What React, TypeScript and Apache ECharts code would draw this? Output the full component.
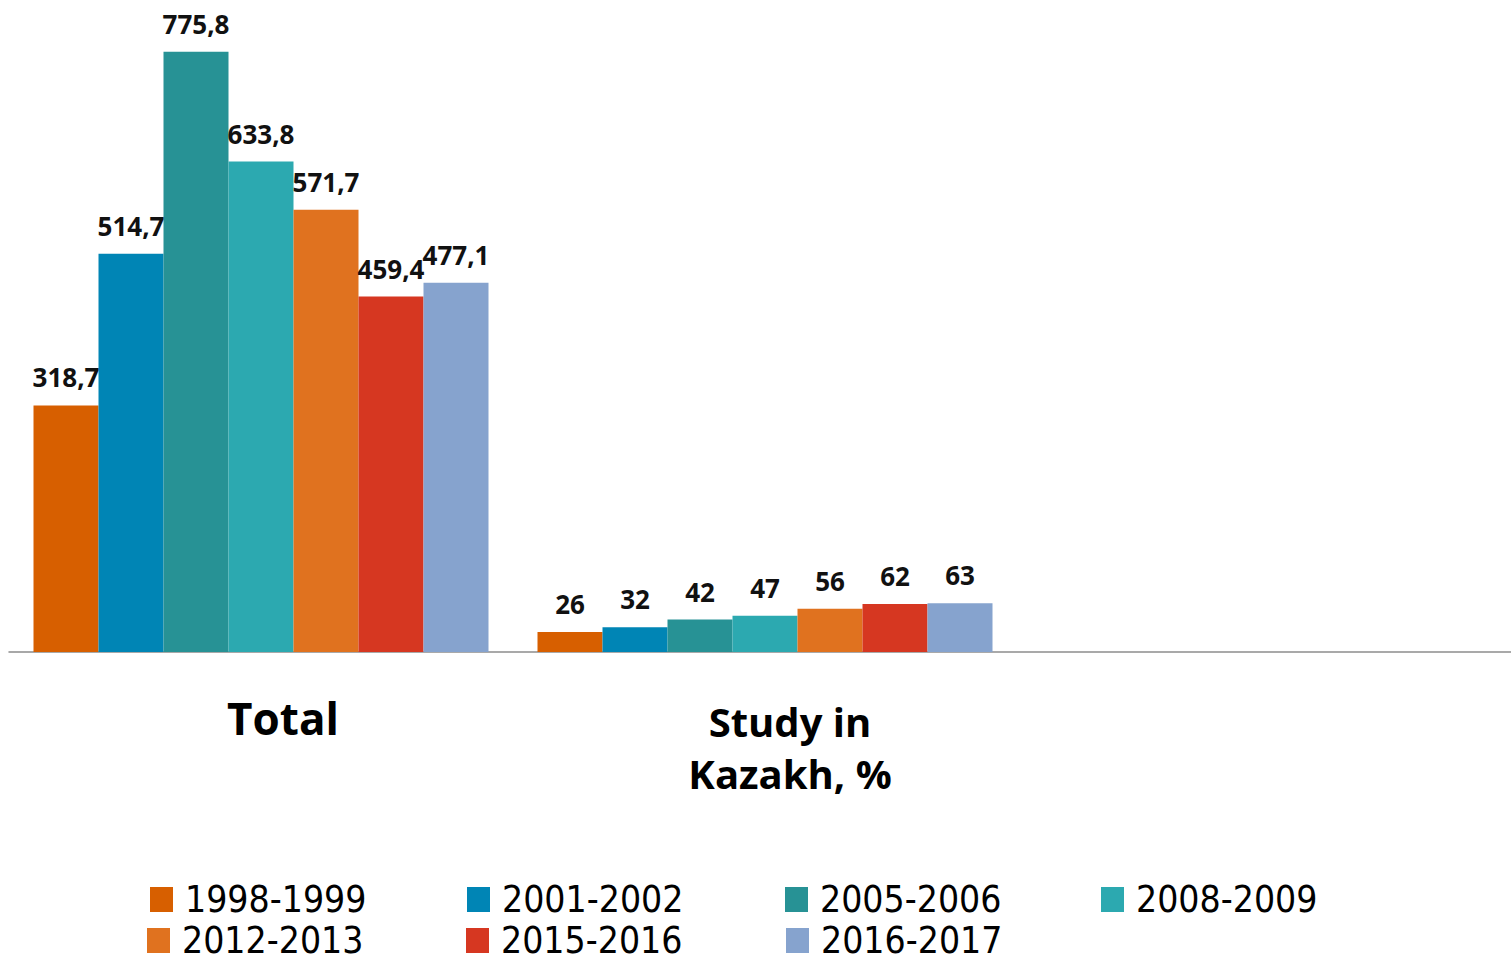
import React, { useEffect, useRef } from "react";
import * as echarts from "echarts";

const categories = ["Total", "Study in\nKazakh, %", ""];
const seriesNames = ["1998-1999", "2001-2002", "2005-2006", "2008-2009", "2012-2013", "2015-2016", "2016-2017"];
const v1998 = [318.7, 26, null];
const v2001 = [514.7, 32, null];
const v2005 = [775.8, 42, null];
const v2008 = [633.8, 47, null];
const v2012 = [571.7, 56, null];
const v2015 = [459.4, 62, null];
const v2016 = [477.1, 63, null];
const seriesValues = [v1998, v2001, v2005, v2008, v2012, v2015, v2016];
const colors = ["#D75F00", "#0085B5", "#279295", "#2CA9B0", "#E0721F", "#D63721", "#86A3CE"];

const legendPos = [
  [150, 881],
  [467, 881],
  [785, 881],
  [1101, 881],
  [147, 922],
  [466, 922],
  [786, 922],
];

export default function App() {
  const ref = useRef<HTMLDivElement>(null);
  useEffect(() => {
    if (!ref.current) return;
    const chart = echarts.init(ref.current, null, { renderer: "svg" });
    const option = {
      animation: false,
      backgroundColor: "#ffffff",
      grid: { left: 9, width: 1512, top: 33, bottom: 303, containLabel: false },
      xAxis: {
        type: "category",
        data: categories,
        axisTick: { show: false },
        axisLine: { lineStyle: { color: "#8c8c8c", width: 1.5 } },
        axisLabel: {
          interval: 0,
          margin: 40,
          formatter: (val: string) => {
            if (!val) return "";
            if (val === "Total") return "{t|Total}";
            return val.split("\n").map((s) => "{s|" + s + "}").join("\n");
          },
          rich: {
            t: {
              fontFamily: "'Open Sans'",
              fontWeight: "bold",
              fontSize: 44,
              lineHeight: 52,
              color: "#000",
              padding: [0, 0, 0, 44],
            },
            s: {
              fontFamily: "'Open Sans'",
              fontWeight: "bold",
              fontSize: 40,
              lineHeight: 52,
              color: "#000",
              padding: [6, 0, 0, 50],
            },
          },
        },
      },
      yAxis: {
        type: "value",
        min: 0,
        max: 800,
        show: false,
        splitLine: { show: false },
      },
      legend: seriesNames.map((n, i) => ({
        data: [n],
        left: legendPos[i][0],
        top: legendPos[i][1],
        padding: 0,
        itemWidth: 23,
        itemHeight: 25,
        selectedMode: false,
        icon: "rect",
        textStyle: {
          fontFamily: "'DejaVu Sans Condensed', 'DejaVu Sans'",
          fontSize: 37,
          color: "#000",
          padding: [0, 0, 0, 7],
          lineHeight: 32,
        },
      })),
      series: seriesNames.map((n, i) => ({
        type: "bar",
        name: n,
        data: seriesValues[i],
        barWidth: 65,
        barGap: "0%",
        itemStyle: { color: colors[i] },
        label: {
          show: true,
          position: "top",
          distance: 15,
          fontFamily: "'Open Sans'",
          fontWeight: "bold",
          fontSize: 26,
          color: "#111",
          formatter: (p: any) => String(p.value).replace(".", ","),
        },
      })),
    };
    chart.setOption(option as any);
    return () => chart.dispose();
  }, []);
  return (
    <div
      style={{
        position: "absolute",
        left: 0,
        top: 0,
        width: 1511,
        height: 955,
        overflow: "hidden",
        background: "#fff",
      }}
    >
      <div ref={ref} style={{ width: 1530, height: 955 }} />
    </div>
  );
}
